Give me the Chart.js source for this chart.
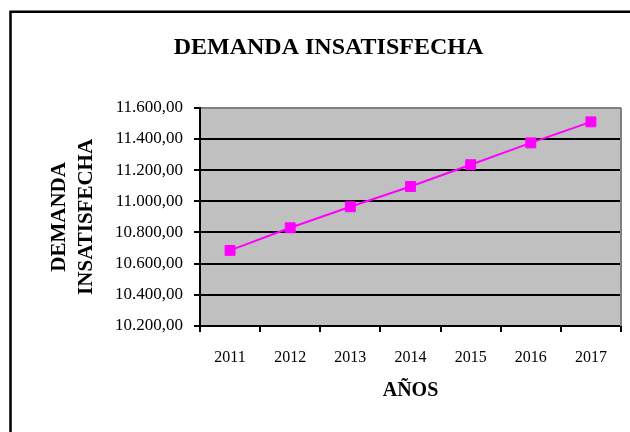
<!DOCTYPE html>
<html>
<head>
<meta charset="utf-8">
<script src="https://cdn.jsdelivr.net/npm/chart.js@4"></script>
<style>
html,body{margin:0;padding:0;background:#fff;}
#wrap{width:630px;height:432px;position:relative;}
</style>
</head>
<body>
<div id="wrap"><canvas id="c" width="630" height="432"></canvas></div>
<script>
const categories = ["2011", "2012", "2013", "2014", "2015", "2016", "2017"];
const demanda = [10685, 10830, 10965, 11095, 11235, 11375, 11510];
const yMin = 10200, yMax = 11600, yStep = 200;
const chartTitle = "DEMANDA INSATISFECHA";
const yTitle = ["DEMANDA", "INSATISFECHA"];
const xTitle = "AÑOS";

function fmt(v) {
  const s = Math.round(v).toString();
  const withDots = s.replace(/\B(?=(\d{3})+(?!\d))/g, ".");
  return withDots + ",00";
}

const serif = "'Liberation Serif', 'Times New Roman', serif";

const decor = {
  id: 'decor',
  beforeDraw(chart) {
    const ctx = chart.ctx;
    const a = chart.chartArea;
    ctx.save();
    ctx.fillStyle = '#fff';
    ctx.fillRect(0, 0, chart.width, chart.height);
    ctx.strokeStyle = '#000';
    ctx.lineWidth = 2.5;
    ctx.strokeRect(10.5, 11.75, 700, 600);
    ctx.fillStyle = '#C0C0C0';
    ctx.fillRect(a.left, a.top, a.right - a.left, a.bottom - a.top);
    ctx.restore();
  },
  beforeDatasetsDraw(chart) {
    const ctx = chart.ctx;
    const a = chart.chartArea;
    ctx.save();
    ctx.strokeStyle = '#808080';
    ctx.lineWidth = 2;
    ctx.beginPath();
    ctx.moveTo(a.right, a.top);
    ctx.lineTo(a.right, a.bottom);
    ctx.stroke();
    ctx.restore();
  }
};

new Chart(document.getElementById('c'), {
  type: 'line',
  data: {
    labels: categories,
    datasets: [{
      data: demanda,
      borderColor: '#FF00FF',
      backgroundColor: '#FF00FF',
      borderWidth: 2,
      pointStyle: 'rect',
      pointRadius: 7,
      pointBorderWidth: 1,
      pointBorderColor: '#FF00FF',
      pointBackgroundColor: '#FF00FF',
      tension: 0,
      fill: false
    }]
  },
  options: {
    responsive: false,
    animation: false,
    layout: { padding: { left: 36, right: 9, top: 0, bottom: 0 } },
    plugins: {
      legend: { display: false },
      tooltip: { enabled: false },
      title: {
        display: true,
        text: chartTitle,
        color: '#000',
        font: { family: serif, size: 24, weight: 'bold', lineHeight: 1.2 },
        padding: { top: 33, bottom: 46 }
      }
    },
    scales: {
      x: {
        offset: true,
        afterFit(scale) { scale.height = 106; },
        grid: {
          display: true,
          offset: true,
          drawOnChartArea: false,
          drawTicks: true,
          tickLength: 6,
          color: '#000',
          lineWidth: 2
        },
        border: { display: true, color: '#000', width: 2 },
        ticks: {
          color: '#000',
          font: { family: serif, size: 16 },
          padding: 16,
          maxRotation: 0
        },
        title: {
          display: true,
          text: xTitle,
          color: '#000',
          font: { family: serif, size: 20, weight: 'bold', lineHeight: 1.2 },
          padding: { top: 0, bottom: 29 }
        }
      },
      y: {
        min: yMin,
        max: yMax,
        afterFit(scale) { scale.width = 164; },
        grid: {
          color: (ctx) => (ctx.tick && ctx.tick.value === yMax) ? '#808080' : '#000',
          tickColor: '#000',
          lineWidth: 2,
          tickLength: 6,
          drawTicks: true
        },
        border: { display: true, color: '#000', width: 2 },
        ticks: {
          stepSize: yStep,
          color: '#000',
          font: { family: serif, size: 17 },
          padding: 11,
          callback: (v) => fmt(v)
        },
        title: {
          display: true,
          text: yTitle,
          color: '#000',
          font: { family: serif, size: 21, weight: 'bold', lineHeight: 1.3 },
          padding: { top: 10, bottom: 0 }
        }
      }
    }
  },
  plugins: [decor]
});
</script>
</body>
</html>
